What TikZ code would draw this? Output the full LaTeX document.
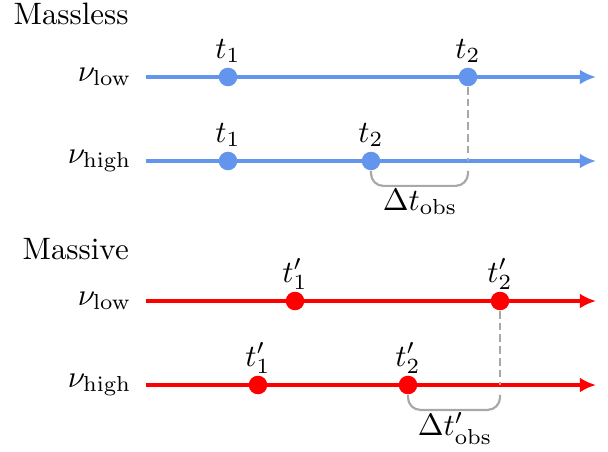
\documentclass[tikz,border=0pt]{standalone}
\usetikzlibrary{arrows.meta}
\definecolor{cflower}{RGB}{100,149,237}
\definecolor{tickgray}{RGB}{168,168,168}
\begin{document}
\begin{tikzpicture}[x=0.323pt,y=-0.323pt,>={Latex[length=5.2pt,width=4.8pt]},
  axis/.style={line width=1pt,->},
  dot/.style={circle,fill,inner sep=0pt,minimum size=6pt},
  guide/.style={tickgray,line width=0.7pt}]
  \useasboundingbox (0,0) rectangle (608,451);
  \node[anchor=base west,inner sep=0pt] (hless) at (13,24) {Massless};
  \node[anchor=base west,inner sep=0pt] (hsive) at (22,259) {Massive};
  % massless rows
  \coordinate (r1s) at (146,77);\coordinate (r1e) at (596,77);
  \coordinate (r2s) at (146,161);\coordinate (r2e) at (596,161);
  \draw[cflower,axis] (r1s)--(r1e); \draw[cflower,axis] (r2s)--(r2e);
  \node[anchor=east,inner sep=0pt] (nu1) at (132,77) {$\nu_{\rm low}$};
  \node[anchor=east,inner sep=0pt] (nu2) at (132,161) {$\nu_{\rm high}$};
  \node[dot,cflower] (a1) at (228,77) {};\node[dot,cflower] (a2) at (468,77) {};
  \node[dot,cflower] (b1) at (228,161) {};\node[dot,cflower] (b2) at (371,161) {};
  \node[anchor=base,inner sep=0pt] (ta1) at (228,58) {$t_1$};\node[anchor=base,inner sep=0pt] (ta2) at (468,58) {$t_2$};
  \node[anchor=base,inner sep=0pt] (tb1) at (228,142) {$t_1$};\node[anchor=base,inner sep=0pt] (tb2) at (371,142) {$t_2$};
  \draw[guide,dash pattern=on 2.5pt off 1.3pt] (a2.south)--(a2.south|-r2s);
  \draw[guide,rounded corners=4pt] (b2.south)--++(0,15)-|(a2.south|-b2.south);
  \node (dtb) at (420,202) {$\Delta t_{\rm obs}$};
  % massive rows
  \coordinate (r3s) at (146,301);\coordinate (r3e) at (596,301);
  \coordinate (r4s) at (146,385);\coordinate (r4e) at (596,385);
  \draw[red,axis] (r3s)--(r3e); \draw[red,axis] (r4s)--(r4e);
  \node[anchor=east,inner sep=0pt] (nu3) at (132,301) {$\nu_{\rm low}$};
  \node[anchor=east,inner sep=0pt] (nu4) at (132,385) {$\nu_{\rm high}$};
  \node[dot,red] (c1) at (295,301) {};\node[dot,red] (c2) at (500,301) {};
  \node[dot,red] (d1) at (258,385) {};\node[dot,red] (d2) at (408,385) {};
  \node[anchor=base,inner sep=0pt] (tc1) at (295,282) {$t'_1$};\node[anchor=base,inner sep=0pt] (tc2) at (500,282) {$t'_2$};
  \node[anchor=base,inner sep=0pt] (td1) at (258,366) {$t'_1$};\node[anchor=base,inner sep=0pt] (td2) at (408,366) {$t'_2$};
  \draw[guide,dash pattern=on 2.5pt off 1.3pt] (c2.south)--(c2.south|-r4s);
  \draw[guide,rounded corners=4pt] (d2.south)--++(0,15)-|(c2.south|-d2.south);
  \node (dtd) at (455,428) {$\Delta t'_{\rm obs}$};
\end{tikzpicture}
\end{document}
